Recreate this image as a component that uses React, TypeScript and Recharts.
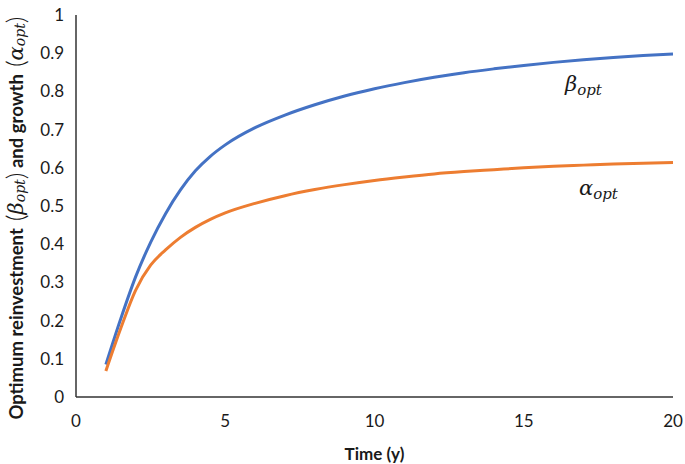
import { LineChart, Line, XAxis, YAxis, ReferenceDot } from "recharts";

const times = [1, 1.5, 2, 2.5, 3, 3.5, 4, 4.5, 5, 6, 7, 8, 9, 10, 11, 12, 13, 14, 15, 16, 17, 18, 19, 20];
const betaOpt = [0.085, 0.205, 0.315, 0.405, 0.48, 0.542, 0.592, 0.63, 0.66, 0.705, 0.738, 0.765, 0.788, 0.807, 0.823, 0.837, 0.849, 0.859, 0.868, 0.876, 0.883, 0.889, 0.894, 0.898];
const alphaOpt = [0.068, 0.18, 0.28, 0.345, 0.385, 0.418, 0.444, 0.465, 0.482, 0.507, 0.527, 0.543, 0.556, 0.567, 0.576, 0.584, 0.59, 0.595, 0.6, 0.604, 0.607, 0.61, 0.612, 0.614];
const xTicks = [0, 5, 10, 15, 20];
const yTicks = [0, 0.1, 0.2, 0.3, 0.4, 0.5, 0.6, 0.7, 0.8, 0.9, 1];

const data = times.map((t, i) => ({ t, beta: betaOpt[i], alpha: alphaOpt[i] }));

const sans = "Lato, 'Open Sans', sans-serif";
const mathFont = "'DejaVu Serif', 'Liberation Serif', serif";
const tickStyle = { fontFamily: sans, fontSize: 17, fill: "#1a1a1a" };

function YTitle() {
  const cx = 16;
  const cy = 218;
  return (
    <text
      x={cx}
      y={cy}
      transform={`rotate(-90 ${cx} ${cy})`}
      textAnchor="middle"
      dominantBaseline="central"
      style={{ fontFamily: sans, fontSize: 18.5, fontWeight: 700, fill: "#1a1a1a" }}
    >
      Optimum reinvestment
      <tspan fontSize={26} fontWeight={300} dy={-1}> (</tspan>
      <tspan fontFamily={mathFont} fontStyle="italic" fontWeight={400} fontSize={21} dy={1}>β</tspan>
      <tspan fontFamily={mathFont} fontStyle="italic" fontWeight={400} fontSize={14} dy={4}>opt</tspan>
      <tspan fontSize={26} fontWeight={300} dy={-5}>)</tspan>
      <tspan dy={1}> and growth</tspan>
      <tspan fontSize={26} fontWeight={300} dy={-1}> (</tspan>
      <tspan fontFamily={mathFont} fontStyle="italic" fontWeight={400} fontSize={21} dy={1}>α</tspan>
      <tspan fontFamily={mathFont} fontStyle="italic" fontWeight={400} fontSize={14} dy={4}>opt</tspan>
      <tspan fontSize={26} fontWeight={300} dy={-5}>)</tspan>
    </text>
  );
}

function MathLabel({ viewBox, sym }: { viewBox?: { x: number; y: number }; sym: string }) {
  if (!viewBox) return null;
  return (
    <text x={viewBox.x} y={viewBox.y} textAnchor="middle" style={{ fontFamily: mathFont, fontStyle: "italic", fill: "#1a1a1a" }}>
      <tspan fontSize={21}>{sym}</tspan>
      <tspan fontSize={15} dy={4}>opt</tspan>
    </text>
  );
}

export default function App() {
  return (
    <div style={{ position: "absolute", left: 0, top: 0, background: "#fff" }}>
      <LineChart width={685} height={464} data={data} margin={{ top: 15, right: 12, left: 0, bottom: 0 }}>
        <XAxis
          dataKey="t"
          type="number"
          domain={[0, 20]}
          ticks={xTicks}
          tickLine={false}
          tickSize={6}
          tickMargin={12}
          axisLine={{ stroke: "#333", strokeWidth: 1.5 }}
          tick={tickStyle}
          height={67}
          label={{
            value: "Time (y)",
            position: "insideBottom",
            offset: 4,
            style: { fontFamily: sans, fontSize: 17, fontWeight: 700, fill: "#1a1a1a" },
          }}
        />
        <YAxis
          type="number"
          domain={[0, 1]}
          ticks={yTicks}
          tickLine={false}
          tickSize={6}
          tickMargin={6}
          axisLine={{ stroke: "#333", strokeWidth: 1.5 }}
          tick={tickStyle}
          width={76}
          label={{ content: <YTitle /> }}
        />
        <Line type="monotone" dataKey="beta" stroke="#4472C4" strokeWidth={3} dot={false} isAnimationActive={false} />
        <Line type="monotone" dataKey="alpha" stroke="#ED7D31" strokeWidth={3} dot={false} isAnimationActive={false} />
        <ReferenceDot x={17} y={0.8} r={0} fill="none" stroke="none" label={<MathLabel sym="β" />} />
        <ReferenceDot x={17.5} y={0.53} r={0} fill="none" stroke="none" label={<MathLabel sym="α" />} />
      </LineChart>
    </div>
  );
}
